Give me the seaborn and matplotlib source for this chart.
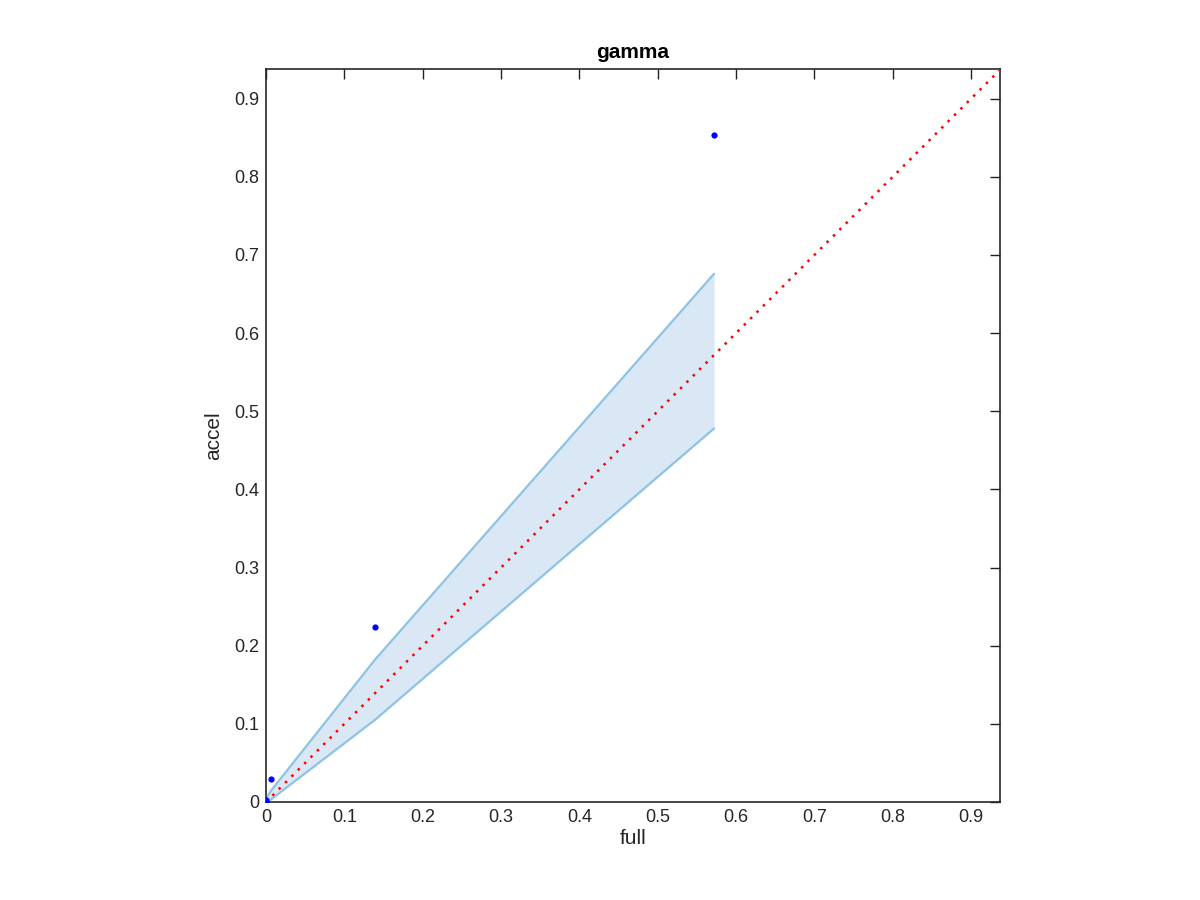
import matplotlib
matplotlib.use("Agg")
import matplotlib.pyplot as plt
import seaborn as sns
import numpy as np
import pandas as pd

sns.set_style("white")
plt.rcParams['font.family'] = ['Liberation Sans', 'DejaVu Sans']

# data
full_pts = [0.0, 0.0, 0.006, 0.139, 0.572]
accel_pts = [0.0, 0.003, 0.029, 0.224, 0.853]
band_x = [0.0, 0.006, 0.139, 0.572]
band_upper = [0.004, 0.014, 0.182, 0.676]
band_lower = [0.0, 0.003, 0.105, 0.478]
diag = [0.0, 0.94]
ticks = [0, 0.1, 0.2, 0.3, 0.4, 0.5, 0.6, 0.7, 0.8, 0.9]
tick_labels = ["0", "0.1", "0.2", "0.3", "0.4", "0.5", "0.6", "0.7", "0.8", "0.9"]

fig = plt.figure(figsize=(12, 9), dpi=100)
ax = fig.add_axes([266/1200, 98/900, 734/1200, 733/900])

band_col = "#8ec3e3"
ax.fill_between(band_x, band_lower, band_upper, color="#d9e8f4", linewidth=0, zorder=1)
sns.lineplot(x=band_x, y=band_upper, ax=ax, color=band_col, linewidth=1.6, zorder=2)
sns.lineplot(x=band_x, y=band_lower, ax=ax, color=band_col, linewidth=1.6, zorder=2)
sns.lineplot(x=diag, y=diag, ax=ax, color="red", linestyle=(0, (1, 2.6)), linewidth=1.8, zorder=3)
sns.scatterplot(x=full_pts, y=accel_pts, ax=ax, color="blue", s=20, edgecolor="blue", linewidth=0, zorder=4)

ax.set_xlim(0, 0.937)
ax.set_ylim(0, 0.938)
ax.set_xticks(ticks)
ax.set_xticklabels(tick_labels)
ax.set_yticks(ticks)
ax.set_yticklabels(tick_labels)
ax.tick_params(direction="in", length=7, width=1, top=True, right=True,
               labelsize=13, colors="#222222", labelcolor="#262626", pad=5)
for sp in ax.spines.values():
    sp.set_visible(True)
    sp.set_color("#262626")
    sp.set_linewidth(1.2)
ax.set_xlabel("full", fontsize=15, color="#262626", labelpad=2)
ax.set_ylabel("accel", fontsize=15, color="#262626", labelpad=8)
ax.set_title("gamma", fontsize=15, fontweight="bold", color="black", pad=8)

fig.savefig("out.png", dpi=100)
